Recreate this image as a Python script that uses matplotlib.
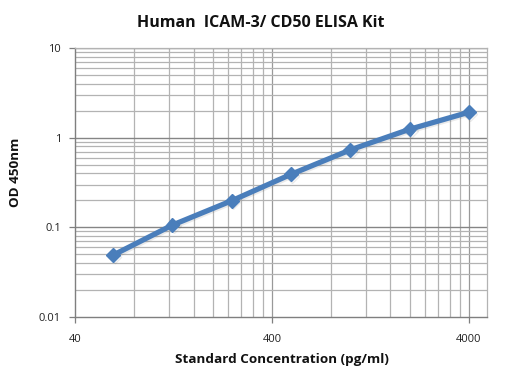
import matplotlib
matplotlib.use("Agg")
import matplotlib.pyplot as plt
import matplotlib.patheffects as pe
import numpy as np

conc = [62.5, 125, 250, 500, 1000, 2000, 4000]
od = [0.049, 0.106, 0.198, 0.39, 0.73, 1.24, 1.92]
xticks = [40, 400, 4000]
yticks = [0.01, 0.1, 1, 10]
ytick_labels = ["0.01", "0.1", "1", "10"]

plt.rcParams['font.family'] = ['Open Sans', 'DejaVu Sans']

fig = plt.figure(figsize=(5.10, 3.76), dpi=100)
ax = fig.add_axes([75/510, 1-317/376, (487-75)/510, (317-48)/376])

ax.set_xscale('log')
ax.set_yscale('log')
ax.set_xlim(40, 4950)
ax.set_ylim(0.01, 10)

# gridlines
xminor = [40*k for k in range(2, 10)] + [400*k for k in range(2, 10)]
for v in xminor:
    ax.axvline(v, color='#b3b3b3', lw=0.9, zorder=1)
for v in xticks[1:]:
    ax.axvline(v, color='#999999', lw=0.9, zorder=1)
for dec in [0.01, 0.1, 1]:
    for k in range(2, 10):
        ax.axhline(dec*k, color='#b3b3b3', lw=0.9, zorder=1)
for v in yticks[1:]:
    ax.axhline(v, color='#858585', lw=1.0, zorder=1)

ax.plot(conc, od, color='#4a7ebb', lw=3.8, marker='D', markersize=7,
        markeredgecolor='#4a7ebb', zorder=3, solid_capstyle='round',
        path_effects=[pe.SimpleLineShadow(offset=(1, -1), alpha=0.12, shadow_color='#555555'), pe.Normal()])

ax.set_xticks(xticks)
ax.set_xticklabels([str(v) for v in xticks])
ax.set_yticks(yticks)
ax.set_yticklabels(ytick_labels)
ax.xaxis.set_minor_locator(matplotlib.ticker.NullLocator())
ax.yaxis.set_minor_locator(matplotlib.ticker.NullLocator())
ax.tick_params(axis='both', which='major', length=4, width=0.9, color='#7f7f7f',
               labelsize=8, labelcolor='#222222', direction='out')
ax.tick_params(axis='x', pad=8)
ax.tick_params(axis='y', pad=6)
for s in ['top', 'right']:
    ax.spines[s].set_color('#b3b3b3')
    ax.spines[s].set_linewidth(0.9)
for s in ['left', 'bottom']:
    ax.spines[s].set_color('#7f7f7f')
    ax.spines[s].set_linewidth(1.0)

fig.text(261/510, 1-23/376, "Human  ICAM-3/ CD50 ELISA Kit", ha='center', va='center',
         fontsize=11.5, fontweight='bold', color='#111111')
fig.text(282/510, 1-359/376, "Standard Concentration (pg/ml)", ha='center', va='center',
         fontsize=9.7, fontweight='bold', color='#111111')
fig.text(16/510, 1-172/376, "OD 450nm", ha='center', va='center', rotation=90,
         fontsize=9.7, fontweight='bold', color='#111111')

fig.savefig("out.png", dpi=100)
